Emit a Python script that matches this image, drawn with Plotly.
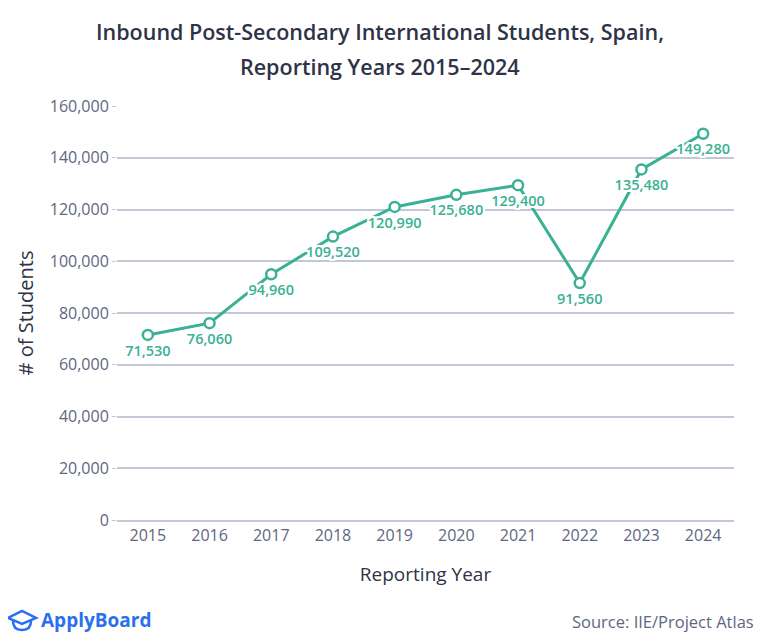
import plotly.graph_objects as go

years = ["2015", "2016", "2017", "2018", "2019", "2020", "2021", "2022", "2023", "2024"]
students = [71530, 76060, 94960, 109520, 120990, 125680, 129400, 91560, 135480, 149280]
y_ticks = [0, 20000, 40000, 60000, 80000, 100000, 120000, 140000, 160000]

TEAL = "#3AB194"
DARK = "#2E3346"
GRAY = "#5E6682"
GRID = "#C3C6D5"
BLUE = "#2A6FEF"
FONT = "Open Sans"

OFF = 8  # page body margin
W, H = 766 - 2 * OFF, 641 - 2 * OFF
# plot area in screen pixels: left 117, right 734, top 106, bottom 520
L = 117 - OFF
T = 106 - OFF
R = W - (734 - OFF)
B = H - (520 - OFF)
PW, PH = W - L - R, H - T - B


def px(x):
    return (x - OFF - L) / PW


def py(y):
    return (H - B - (y - OFF)) / PH


labels = [f"{v:,}" for v in students]
halo = ", ".join(f"{dx}px {dy}px 0 white" for dx in (-2, -1, 0, 1, 2) for dy in (-2, -1, 0, 1, 2))

fig = go.Figure()
fig.add_trace(go.Scatter(
    x=years, y=students, mode="lines",
    line=dict(color=TEAL, width=3),
    hoverinfo="skip", showlegend=False,
))
fig.add_trace(go.Scatter(
    x=years, y=students, mode="markers+text", text=labels,
    textposition="bottom center",
    marker=dict(size=14, opacity=0),
    textfont=dict(family=FONT, size=14.5, color=TEAL, weight=600, shadow=halo),
    hoverinfo="skip", showlegend=False,
))
fig.add_trace(go.Scatter(
    x=years, y=students, mode="markers",
    marker=dict(symbol="circle", size=10, color="white", line=dict(color=TEAL, width=2.5)),
    hoverinfo="skip", showlegend=False,
))

fig.update_layout(
    width=W, height=H,
    margin=dict(l=L, r=R, t=T, b=B),
    paper_bgcolor="white", plot_bgcolor="white",
    font=dict(family=FONT, color=GRAY),
    xaxis=dict(
        type="category", range=[-0.5, 9.5],
        showgrid=False, showline=True, linecolor=GRID, linewidth=2,
        ticks="", tickfont=dict(size=16, color=GRAY),
        title=dict(text="Reporting Year", font=dict(size=19, color=DARK), standoff=22),
    ),
    yaxis=dict(
        range=[0, 160000], tickvals=y_ticks, tickformat=",",
        showgrid=True, gridcolor=GRID, gridwidth=1.5, zeroline=False,
        ticks="outside", ticklen=4, tickcolor=GRID, tickwidth=1,
        tickfont=dict(size=16, color=GRAY),
        title=dict(text="# of Students", font=dict(size=20, color=DARK), standoff=10),
    ),
    annotations=[
        dict(text="Inbound Post-Secondary International Students, Spain,", x=px(380), y=py(31),
             xref="paper", yref="paper", showarrow=False, xanchor="center", yanchor="middle",
             font=dict(family=FONT, size=21.5, color=DARK, weight=600)),
        dict(text="Reporting Years 2015\u20132024", x=px(380), y=py(66),
             xref="paper", yref="paper", showarrow=False, xanchor="center", yanchor="middle",
             font=dict(family=FONT, size=21.5, color=DARK, weight=600)),
        dict(text="ApplyBoard", x=px(39), y=py(620),
             xref="paper", yref="paper", showarrow=False, xanchor="left", yanchor="middle",
             font=dict(family=FONT, size=19, color=BLUE, weight=700)),
        dict(text="Source: IIE/Project Atlas", x=px(756), y=py(621),
             xref="paper", yref="paper", showarrow=False, xanchor="right", yanchor="middle",
             font=dict(family=FONT, size=16.5, color=GRAY)),
    ],
    shapes=[
        dict(type="path", xref="paper", yref="paper",
             path=f"M {px(8)},{py(618)} L {px(22)},{py(611)} L {px(36)},{py(618)} L {px(22)},{py(624)} Z",
             line=dict(color=BLUE, width=2.5), fillcolor="rgba(0,0,0,0)"),
        dict(type="path", xref="paper", yref="paper",
             path=f"M {px(13)},{py(621)} Q {px(13)},{py(630)} {px(22)},{py(630)} Q {px(31)},{py(630)} {px(31)},{py(621)}",
             line=dict(color=BLUE, width=2.5)),
    ],
)

fig.write_html("out.html")
